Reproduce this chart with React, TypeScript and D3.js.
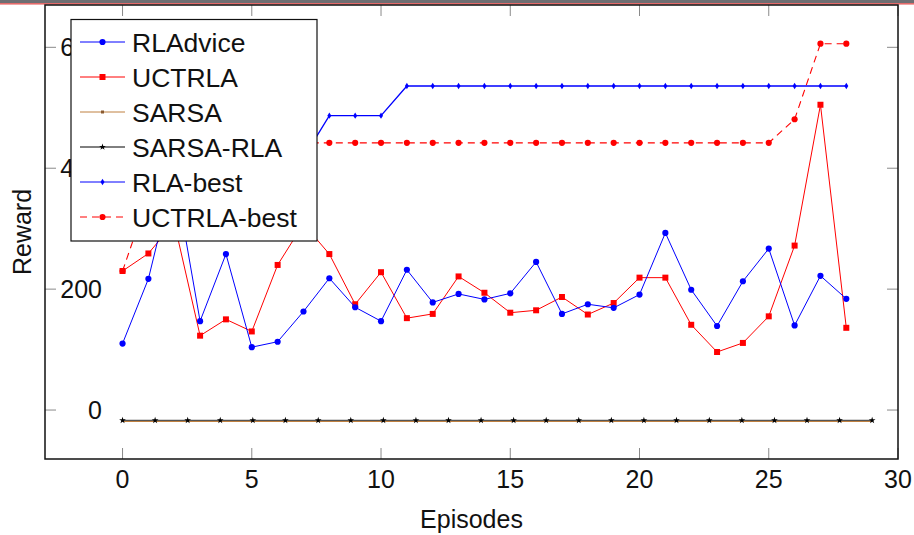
import React, { useEffect, useRef } from "react";
import * as d3 from "d3";

// episodes 0..28 for the main series
const episodes = [0, 1, 2, 3, 4, 5, 6, 7, 8, 9, 10, 11, 12, 13, 14, 15, 16, 17, 18, 19, 20, 21, 22, 23, 24, 25, 26, 27, 28];

const rlAdvice = [110, 217, 392, 147, 258, 104, 113, 163, 218, 170, 147, 232, 178, 192, 183, 193, 245, 159, 175, 169, 191, 293, 199, 139, 213, 267, 140, 222, 184];
const uctrla = [230, 259, 310, 123, 150, 130, 240, 308, 258, 175, 228, 152, 159, 221, 194, 161, 165, 187, 158, 177, 219, 219, 141, 96, 111, 155, 272, 505, 136];
const rlaBest = [400, 400, 400, 405, 405, 410, 410, 417, 487, 487, 487, 536, 536, 536, 536, 536, 536, 536, 536, 536, 536, 536, 536, 536, 536, 536, 536, 536, 536];
const uctrlaBest = [230, 354, 442, 442, 442, 442, 442, 442, 442, 442, 442, 442, 442, 442, 442, 442, 442, 442, 442, 442, 442, 442, 442, 442, 442, 442, 481, 606, 606];

// SARSA runs 0..29
const sarsaEpisodes = [0, 1, 2, 3, 4, 5, 6, 7, 8, 9, 10, 11, 12, 13, 14, 15, 16, 17, 18, 19, 20, 21, 22, 23, 24, 25, 26, 27, 28, 29];
const sarsa = [-19, -19, -19, -19, -19, -19, -19, -19, -19, -19, -19, -19, -19, -19, -19, -19, -19, -19, -19, -19, -19, -19, -19, -19, -19, -19, -19, -19, -19, -19];
const sarsaRlaEpisodes = [0, 1.26, 2.52, 3.78, 5.04, 6.3, 7.57, 8.83, 10.09, 11.35, 12.61, 13.87, 15.13, 16.39, 17.65, 18.91, 20.17, 21.43, 22.7, 23.96, 25.22, 26.48, 27.74, 29];
const sarsaRla = [-17, -17, -17, -17, -17, -17, -17, -17, -17, -17, -17, -17, -17, -17, -17, -17, -17, -17, -17, -17, -17, -17, -17, -17];

const xTicks = [0, 5, 10, 15, 20, 25, 30];
const yTicks = [0, 200, 400, 600];

const FONT = "'Liberation Sans', Arial, sans-serif";

export default function App() {
  const refElement = useRef(null);

  useEffect(() => {
    const el = refElement.current;
    if (!el) return;

    const width = 914,
      height = 535;
    const left = 45,
      right = 898,
      top = 5,
      bottom = 459;

    const xScale = d3.scaleLinear().domain([-3, 30]).range([left, right]);
    const yScale = d3.scaleLinear().domain([-81, 670]).range([bottom, top]);

    const svg = d3
      .select(el)
      .append("svg")
      .attr("width", width)
      .attr("height", height)
      .style("display", "block")
      .style("background", "#fff");

    // window strip at the very top
    svg.append("rect").attr("x", 0).attr("y", 0).attr("width", width).attr("height", 3.5).attr("fill", "#6e6e72");
    svg.append("rect").attr("x", 0).attr("y", 3).attr("width", width).attr("height", 1.6).attr("fill", "#e46a6a");

    const tickLen = 11;
    const ticks = svg.append("g").attr("stroke", "#8a8a8a").attr("stroke-width", 1);
    xTicks.forEach(t => {
      ticks.append("line").attr("x1", xScale(t)).attr("x2", xScale(t)).attr("y1", bottom).attr("y2", bottom - tickLen);
      ticks.append("line").attr("x1", xScale(t)).attr("x2", xScale(t)).attr("y1", top).attr("y2", top + tickLen);
    });
    yTicks.forEach(t => {
      ticks.append("line").attr("x1", left).attr("x2", left + tickLen).attr("y1", yScale(t)).attr("y2", yScale(t));
      ticks.append("line").attr("x1", right).attr("x2", right - tickLen).attr("y1", yScale(t)).attr("y2", yScale(t));
    });

    // tick labels
    svg
      .append("g")
      .selectAll("text")
      .data(xTicks)
      .join("text")
      .attr("x", d => xScale(d))
      .attr("y", 488)
      .attr("text-anchor", "middle")
      .attr("font-family", FONT)
      .attr("font-size", 25)
      .attr("fill", "#111")
      .text(d => d);

    svg
      .append("g")
      .selectAll("text")
      .data(yTicks)
      .join("text")
      .attr("x", 102)
      .attr("y", d => yScale(d) + 9)
      .attr("text-anchor", "end")
      .attr("font-family", FONT)
      .attr("font-size", 25)
      .attr("fill", "#111")
      .text(d => d);

    const line = d3
      .line()
      .x(d => xScale(d[0]))
      .y(d => yScale(d[1]));

    const zip = (xs, ys) => xs.map((x, i) => [x, ys[i]]);

    const plot = svg.append("g");

    const diamond = "M0,-3.2L2,0L0,3.2L-2,0Z";
    const star = d3.symbol().type(d3.symbolStar).size(14)();
    const circle = d3.symbol().type(d3.symbolCircle).size(30)();
    const square = "M-3,-3H3V3H-3Z";

    const series = [
      { name: "SARSA", pts: zip(sarsaEpisodes, sarsa), color: "#bf8040", dash: null, mark: null, width: 1.2 },
      { name: "SARSA-RLA", pts: zip(sarsaRlaEpisodes, sarsaRla), color: "#000", dash: null, mark: star, width: 1.2, lineColor: "#555" },
      { name: "RLA-best", pts: zip(episodes, rlaBest), color: "#0000ff", dash: null, mark: diamond, width: 1.3 },
      { name: "UCTRLA-best", pts: zip(episodes, uctrlaBest), color: "#ff0000", dash: "7,5", mark: circle, width: 1.1 },
      { name: "UCTRLA", pts: zip(episodes, uctrla), color: "#ff0000", dash: null, mark: square, width: 1 },
      { name: "RLAdvice", pts: zip(episodes, rlAdvice), color: "#0000ff", dash: null, mark: circle, width: 1 }
    ];

    series.forEach(s => {
      plot
        .append("path")
        .datum(s.pts)
        .attr("d", line)
        .attr("fill", "none")
        .attr("stroke", s.lineColor || s.color)
        .attr("stroke-width", s.width)
        .attr("stroke-dasharray", s.dash);
      if (s.mark) {
        plot
          .append("g")
          .selectAll("path")
          .data(s.pts)
          .join("path")
          .attr("transform", d => "translate(" + xScale(d[0]) + "," + yScale(d[1]) + ")")
          .attr("d", s.mark)
          .attr("fill", s.color);
      }
    });

    // frame
    svg
      .append("rect")
      .attr("x", left)
      .attr("y", top)
      .attr("width", right - left)
      .attr("height", bottom - top)
      .attr("fill", "none")
      .attr("stroke", "#111")
      .attr("stroke-width", 1.5);

    // axis titles
    svg
      .append("text")
      .attr("x", (left + right) / 2)
      .attr("y", 528)
      .attr("text-anchor", "middle")
      .attr("font-family", FONT)
      .attr("font-size", 25)
      .attr("fill", "#111")
      .text("Episodes");

    svg
      .append("text")
      .attr("transform", "translate(31," + (top + bottom) / 2 + ") rotate(-90)")
      .attr("text-anchor", "middle")
      .attr("font-family", FONT)
      .attr("font-size", 25)
      .attr("fill", "#111")
      .text("Reward");

    // legend
    const legendItems = [
      { name: "RLAdvice", color: "#0000ff", dash: null, mark: circle },
      { name: "UCTRLA", color: "#ff0000", dash: null, mark: square },
      { name: "SARSA", color: "#bf8040", dash: null, mark: "M-1.5,-1.5H1.5V1.5H-1.5Z", markColor: "#8a5a30" },
      { name: "SARSA-RLA", color: "#000", dash: null, mark: star },
      { name: "RLA-best", color: "#0000ff", dash: null, mark: diamond },
      { name: "UCTRLA-best", color: "#ff0000", dash: "7,5", mark: circle }
    ];

    const legend = svg.append("g");
    legend
      .append("rect")
      .attr("x", 71)
      .attr("y", 19.5)
      .attr("width", 246)
      .attr("height", 221.5)
      .attr("fill", "#fff")
      .attr("stroke", "#111")
      .attr("stroke-width", 1.2);

    legendItems.forEach((item, i) => {
      const cy = 42 + i * 35;
      legend
        .append("line")
        .attr("x1", 80)
        .attr("x2", 125)
        .attr("y1", cy)
        .attr("y2", cy)
        .attr("stroke", item.color)
        .attr("stroke-width", 1)
        .attr("stroke-dasharray", item.dash);
      legend
        .append("path")
        .attr("transform", "translate(102.5," + cy + ")")
        .attr("d", item.mark)
        .attr("fill", item.markColor || item.color);
      legend
        .append("text")
        .attr("x", 132)
        .attr("y", cy + 9.5)
        .attr("font-family", FONT)
        .attr("font-size", 26.5)
        .attr("fill", "#111")
        .text(item.name);
    });

    return () => {
      if (el)
        d3.select(el)
          .select("svg")
          .remove();
    };
  });

  return <div ref={refElement} style={{ position: "absolute", left: 0, top: 0 }} />;
}
